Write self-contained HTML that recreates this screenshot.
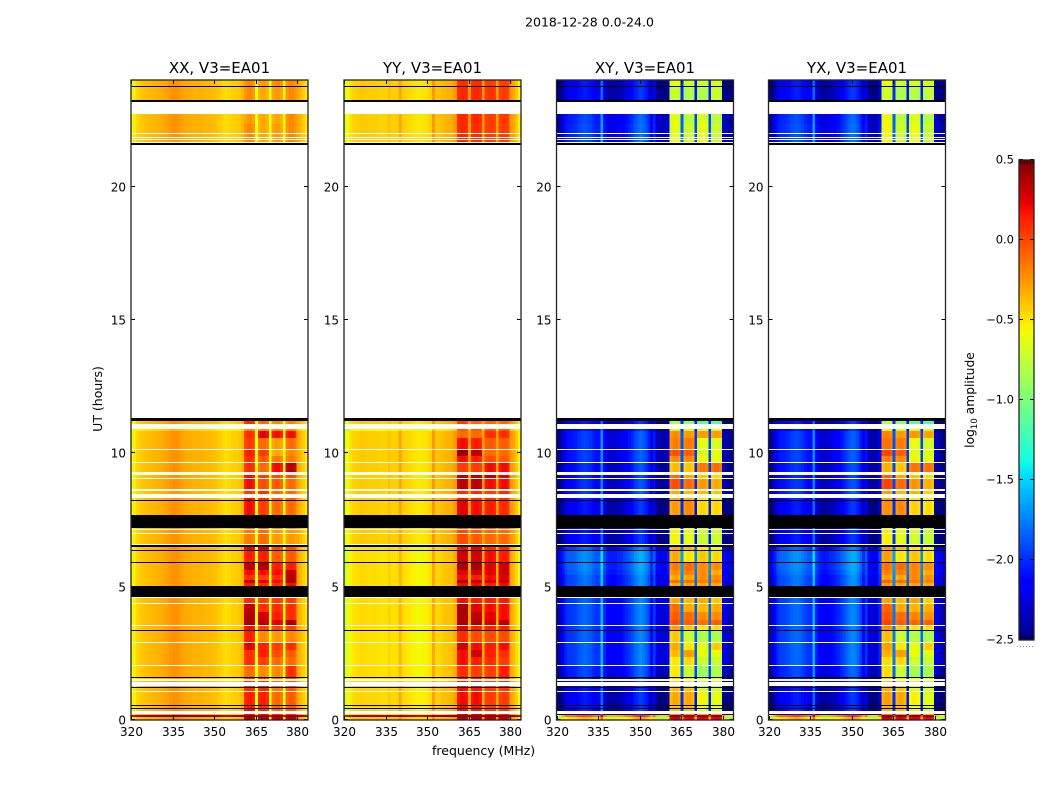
<!DOCTYPE html>
<html>
<head>
<meta charset="utf-8">
<title>2018-12-28 0.0-24.0</title>
<style>
html,body{margin:0;padding:0;background:#fff;width:1050px;height:800px;overflow:hidden}
svg{display:block}
text{font-family:"DejaVu Sans","Liberation Sans",sans-serif;fill:#000}
</style>
</head>
<body>
<svg id="fig" xmlns="http://www.w3.org/2000/svg" width="1050" height="800" viewBox="0 0 1050 800">
<text x="589.5" y="26.5" font-size="12.5" text-anchor="middle">2018-12-28 0.0-24.0</text>
<text x="432" y="755" font-size="12.5">frequency (MHz)</text>
<text transform="translate(102,399) rotate(-90)" font-size="12.5" text-anchor="middle">UT (hours)</text>
<text transform="translate(974,400) rotate(-90)" font-size="12.3" text-anchor="middle">log<tspan font-size="8.5" dy="3">10</tspan><tspan dy="-3"> amplitude</tspan></text>
</svg>
<script>
var freqTicks = [320, 335, 350, 365, 380];
var hourTicks = [0, 5, 10, 15, 20];
var colorTicks = [0.5, 0, -0.5, -1, -1.5, -2, -2.5];
var colorTickLabels = ['0.5', '0.0', '\u22120.5', '\u22121.0', '\u22121.5', '\u22122.0', '\u22122.5'];
var panelTitles = ['XX, V3=EA01', 'YY, V3=EA01', 'XY, V3=EA01', 'YX, V3=EA01'];
var firstChannelMHz = 319.8;
var blockOfChannel = [-1,-1,-1,-1,-1,-1,-1,-1,-1,-1,-1,-1,-1,-1,-1,-1,-1,-1,-1,-1,-1,-1,-1,-1,-1,-1,-1,-1,-1,-1,-1,-1,-1,-1,-1,-1,-1,-1,-1,-1,-1,0,0,0,0,-1,1,1,1,1,-1,2,2,2,2,-1,3,3,3,3,-1,-1,-1,-1,-1];

var xxSpectrum = [-.6,-.52,-.45,-.42,-.40,-.38,-.37,-.36,-.35,-.34,-.33,-.32,-.30,-.28,-.25,-.23,-.23,-.25,-.28,-.30,-.31,-.32,-.33,-.34,-.33,-.33,-.35,-.36,-.35,-.37,-.38,-.40,-.42,-.46,-.48,-.46,-.44,-.43,-.42,-.40,-.35,-.05,0,0,-.05,-.6,-.05,0,0,-.05,-.62,-.05,0,0,-.05,-.58,-.05,0,0,-.05,-.3,-.36,-.42,-.5,-.62];
var yySpectrum = [-.72,-.58,-.49,-.45,-.43,-.42,-.41,-.41,-.42,-.43,-.42,-.42,-.43,-.44,-.44,-.44,-.38,-.43,-.43,-.42,-.28,-.42,-.44,-.45,-.47,-.49,-.51,-.51,-.50,-.49,-.47,-.43,-.25,-.41,-.39,-.37,-.35,-.34,-.33,-.30,-.26,-.03,0,0,-.03,-.25,-.03,0,0,-.03,-.28,-.03,0,0,-.03,-.28,-.03,0,0,-.03,-.25,-.3,-.4,-.55,-.7];
var xySpectrum = [-2.45,-2.35,-2.2,-2.05,-2.0,-2.0,-1.98,-1.95,-1.9,-1.87,-1.85,-1.87,-1.9,-1.95,-2.0,-2.02,-1.6,-2.05,-2.15,-2.2,-2.2,-2.2,-2.15,-2.15,-2.1,-2.05,-2.0,-1.95,-1.85,-1.8,-1.75,-1.78,-1.85,-1.95,-2.15,-1.98,-2.25,-2.3,-2.3,-2.3,-2.2,-.07,0,0,-.05,-1.8,-.05,0,0,-.05,-1.9,-.05,0,0,-.05,-1.85,-.05,0,0,-.06,-2.25,-2.3,-2.35,-2.4,-2.45];
var yxSpectrum = [-2.42,-2.32,-2.18,-2.03,-1.98,-1.97,-1.95,-1.92,-1.88,-1.85,-1.84,-1.86,-1.9,-1.95,-2.0,-2.03,-1.62,-2.07,-2.16,-2.2,-2.22,-2.2,-2.16,-2.14,-2.1,-2.05,-2.0,-1.94,-1.86,-1.8,-1.76,-1.78,-1.85,-1.97,-2.15,-2.0,-2.26,-2.3,-2.3,-2.3,-2.05,-.05,0,0,-.05,-1.8,-.05,0,0,-.05,-1.9,-.05,0,0,-.05,-1.85,-.05,0,0,-.06,-2.25,-2.3,-2.35,-2.4,-2.45];

var bandTopHours = [24,23.775,23.74,23.25,23.19,22.725,22.35,22.01,21.975,21.88,21.84,21.79,21.75,21.675,21.62,21.56,11.325,11.21,11.10,10.91,10.84,10.575,10.16,10.125,9.90,9.675,9.64,9.30,9.19,9.075,9.04,8.66,8.59,8.475,8.325,8.25,8.21,7.69,7.20,7.16,7.125,7.01,6.975,6.60,6.56,6.49,6.375,6.34,5.925,5.89,5.625,5.44,5.25,5.14,5.025,4.61,4.575,4.39,4.35,4.05,3.75,3.56,3.525,3.375,3.34,2.925,2.89,2.625,2.36,2.06,2.025,1.61,1.575,1.54,1.46,1.425,1.275,1.24,1.20,1.09,1.05,0.56,0.525,0.45,0.41,0.34,0.225,0.19,0.11];
var bandKinds = 'dkdkwddwdwdwdwkwkdwdddwddwdwdwdwdwdkdkdwdwdwkdkdkdddddkwdwdddwdkdwdddwdkdwdwdkdwdkdkdwddd';

// each data row: [low-band offset, block 1, block 2, block 3, block 4] (log10 amplitude)
var xxRows = [
[0,-.2,-.25,-.2,-.2],[0,-.2,-.3,-.25,-.2],[0,-.25,-.3,-.3,-.2],[0,-.2,-.3,-.25,-.2],[0,-.2,-.3,-.25,-.2],[0,-.2,-.3,-.25,-.2],[0,-.2,-.3,-.25,-.2],
[0,.1,-.1,-.2,-.2],[-.12,-.2,-.2,-.2,-.2],[0,.1,.25,.2,.2],[0,.05,-.1,-.25,-.1],[0,.15,.05,-.3,-.2],[0,.1,-.05,-.15,-.15],[0,.1,-.1,.2,.35],[0,.2,.05,0,0],[0,.2,0,-.05,-.1],[-.02,.05,.1,-.1,-.1],[0,.2,.1,-.05,-.05],[0,.2,.05,-.1,-.1],
[0,-.1,-.1,-.2,-.2],[0,-.15,-.1,-.25,-.25],[0,-.15,-.1,-.25,-.25],[0,.25,.3,0,0],[0,.15,.15,-.05,-.05],[0,.35,.4,.15,.15],[0,.2,.2,.2,.35],[0,.1,.05,.1,.35],[0,.35,.25,.2,.4],[0,.15,.1,.1,.2],
[0,.1,.05,.05,.05],[0,.35,.1,.1,.1],[0,.4,.3,.15,.1],[0,.4,.35,.25,.4],[0,.2,.05,.05,.05],[0,.15,-.2,-.25,-.2],[0,.25,.15,.05,.1],[0,.1,.15,0,-.05],[0,.1,.05,-.1,-.1],[0,-.1,-.2,-.2,.1],
[0,.1,.1,-.1,0],[0,.1,.1,-.1,0],[0,.1,.1,-.1,0],[0,.1,.1,-.15,-.05],[0,.15,.15,-.1,-.05],[0,.15,.1,-.1,-.05],[0,.2,.1,-.1,-.05],[0,.2,.2,.1,.1],[.85,.48,.48,.48,.48],[.02,.4,.4,.35,.35]];
var yyRows = [
[0,.1,.1,.05,.05],[0,.12,.12,.08,.05],[0,.12,.12,.05,.05],[0,.12,.1,.05,.05],[0,.12,.1,.05,.05],[0,.12,.1,.05,.05],[0,.12,.1,.05,.05],
[0,.05,-.1,-.1,-.1],[-.15,-.05,-.05,-.05,-.05],[0,-.1,-.1,.1,.1],[0,.2,.15,-.05,-.05],[0,.45,.35,-.1,-.1],[0,.2,.15,0,-.05],[0,.05,.05,.2,.2],[0,.35,.35,.35,.25],[0,.35,.35,.2,.2],[0,.1,.1,.05,.1],[0,.15,.1,.1,.1],[0,.25,.2,.15,.1],
[0,0,0,-.05,-.05],[0,0,-.05,-.1,-.1],[0,0,-.05,-.1,-.1],[-.06,.2,.25,.1,.1],[-.06,.3,.3,.2,.15],[-.05,.4,.4,.25,.3],[-.05,.25,.3,.25,.3],[-.05,.2,.15,.2,.25],[-.05,.4,.35,.3,.35],[-.05,.2,.2,.15,.2],
[-.05,.2,.15,.15,.15],[-.05,.4,.25,.2,.2],[-.05,.4,.35,.25,.2],[-.05,.4,.4,.3,.35],[-.06,.25,.15,.15,.15],[-.06,.1,0,0,0],[-.06,.3,.2,.15,.2],[-.06,.2,.3,.15,.1],[-.06,.2,.15,.1,.05],[-.05,.1,.05,.05,.15],
[-.03,.15,.15,.05,.1],[-.03,.15,.15,.05,.1],[-.03,.15,.15,.05,.1],[-.03,.2,.15,.05,.05],[-.03,.2,.2,.05,.05],[-.03,.2,.15,.05,.05],[-.03,.2,.15,.05,.05],[-.05,.25,.25,.15,.15],[.85,.48,.48,.48,.48],[.02,.4,.4,.35,.35]];
var xyRows = [
[-.2,-.6,-.7,-.7,-.65],[-.2,-.7,-.8,-.8,-.7],[-.05,-.6,-.75,-.65,-.75],[-.03,-.6,-.7,-.6,-.7],[-.03,-.6,-.7,-.6,-.7],[-.03,-.6,-.7,-.6,-.7],[-.03,-.6,-.7,-.6,-.7],
[-.2,-.8,-.9,-1.1,-1.1],[-.2,-.7,-.7,-.7,-.7],[-.08,-.2,-.25,-.25,-.25],[-.08,-.15,-.15,-.6,-.65],[-.08,0,-.05,-.65,-.6],[-.08,-.2,-.2,-.55,-.6],[-.12,-.35,-.4,-.15,-.1],[-.15,-.1,-.3,-.4,-.45],[-.12,0,-.1,-.25,-.3],[-.08,-.3,-.35,-.35,-.4],[-.15,-.3,-.3,-.5,-.5],[-.2,-.25,-.2,-.45,-.45],
[-.2,-.6,-.6,-.7,-.7],[-.2,-.55,-.6,-.7,-.7],[-.2,-.55,-.6,-.7,-.7],[.05,-.3,-.35,-.5,-.55],[.15,-.3,-.5,-.4,-.45],[.15,-.15,-.1,-.2,-.2],[.12,-.2,-.15,-.2,-.3],[.07,-.3,-.3,-.2,-.2],[.07,-.1,-.1,-.15,-.15],[.07,-.3,-.3,-.3,-.3],
[.03,-.3,-.35,-.3,-.4],[.03,-.1,-.3,-.35,-.3],[.03,-.05,-.1,-.2,-.2],[.03,0,-.05,-.1,-.05],[.03,-.25,-.4,-.5,-.45],[.03,-.4,-.7,-.8,-.8],[.03,-.3,-.5,-.6,-.4],[.03,-.35,-.25,-.6,-.6],[.03,-.5,-.45,-.7,-.7],[-.05,-.5,-.7,-.85,-.8],
[-.2,-.4,-.45,-.7,-.7],[-.2,-.4,-.45,-.7,-.7],[-.2,-.4,-.45,-.7,-.7],[-.2,-.35,-.4,-.65,-.65],[-.2,-.3,-.3,-.55,-.6],[-.2,-.35,-.35,-.6,-.6],[-.15,-.35,-.35,-.6,-.6],[-.25,-.2,-.2,-.3,-.3],[1.85,.5,.5,.5,.5],[1.5,.3,.25,.25,.25]];
var yxBlockShift = [.03, 0, .02, -.02];

var svgNS = 'http://www.w3.org/2000/svg';
var fig = document.getElementById('fig');
var panelLeft = [131, 344, 556.5, 768.5];
var panelWidth = 177;
var axTop = 80, axBottom = 720, hourMax = 24, mhzMin = 320, mhzPerWidth = 63.9;
var barLeft = 1019, barWidth = 15, barTop = 160, barBottom = 640, valueMin = -2.5, valueMax = 0.5;

function xScale(panel, f) { return panelLeft[panel] + (f - mhzMin) / mhzPerWidth * panelWidth; }
function yScale(h) { return axBottom - h / hourMax * (axBottom - axTop); }
function barScale(v) { return barBottom - (v - valueMin) / (valueMax - valueMin) * (barBottom - barTop); }
function piece(t, pts) {
  for (var i = 1; i < pts.length; i++) {
    if (t <= pts[i][0]) {
      var a = pts[i - 1], b = pts[i];
      return a[1] + (b[1] - a[1]) * (t - a[0]) / (b[0] - a[0]);
    }
  }
  return pts[pts.length - 1][1];
}
function jet(v) {
  var t = Math.max(0, Math.min(1, (v - valueMin) / (valueMax - valueMin)));
  var r = piece(t, [[0, 0], [.35, 0], [.66, 1], [.89, 1], [1, .5]]);
  var g = piece(t, [[0, 0], [.125, 0], [.375, 1], [.64, 1], [.91, 0], [1, 0]]);
  var b = piece(t, [[0, .5], [.11, 1], [.34, 1], [.65, 0], [1, 0]]);
  return 'rgb(' + Math.round(r * 255) + ',' + Math.round(g * 255) + ',' + Math.round(b * 255) + ')';
}
function mk(tag, attrs, parent) {
  var el = document.createElementNS(svgNS, tag);
  for (var k in attrs) { el.setAttribute(k, attrs[k]); }
  (parent || fig).appendChild(el);
  return el;
}

var spectra = [xxSpectrum, yySpectrum, xySpectrum, yxSpectrum];
var rowSets = [xxRows, yyRows, xyRows, xyRows];

function cellValue(panel, row, c) {
  var b = blockOfChannel[c];
  var rowVals = rowSets[panel][row];
  if (b < 0) { return spectra[panel][c] + rowVals[0]; }
  var v = rowVals[b + 1] + spectra[panel][c];
  if (panel === 3) { v += yxBlockShift[b]; }
  return v;
}

function drawPanel(p) {
  var g = mk('g', {});
  
  
  var clipId = 'clip' + p;
  var defs = mk('clipPath', { id: clipId }, g);
  mk('rect', { x: panelLeft[p], y: axTop, width: panelWidth, height: axBottom - axTop }, defs);
  var cells = mk('g', { 'clip-path': 'url(#' + clipId + ')', 'shape-rendering': 'crispEdges' }, g);
  
  
  var row = 0;
  for (var i = 0; i < bandTopHours.length; i++) {
    var topH = bandTopHours[i];
    var botH = i + 1 < bandTopHours.length ? bandTopHours[i + 1] : 0;
    var y0 = Math.round(yScale(topH));
    var y1 = Math.round(yScale(botH));
    var kind = bandKinds.charAt(i);
    if (kind === 'k') {
      var blackBand = mk('rect', { x: panelLeft[p], y: y0, width: panelWidth, height: Math.max(1, y1 - y0), fill: '#000' }, cells);
      
      
    } else if (kind === 'd') {
      for (var c = 0; c < blockOfChannel.length; c++) {
        var x0 = xScale(p, firstChannelMHz + c);
        var x1 = xScale(p, firstChannelMHz + c + 1);
        var cell = mk('rect', { x: x0.toFixed(2), y: y0, width: (x1 - x0 + 0.4).toFixed(2), height: Math.max(1, y1 - y0), fill: jet(cellValue(p, row, c)) }, cells);
        
        
      }
      row++;
    }
  }
  var L = panelLeft[p], R = L + panelWidth;
  freqTicks.forEach(function (f) {
    var x = Math.round(xScale(p, f)) + 0.5;
    var t1 = mk('line', { x1: x, x2: x, y1: axBottom, y2: axBottom - 4, stroke: '#000', 'stroke-width': 1 }, g);
    
    
    var t2 = mk('line', { x1: x, x2: x, y1: axTop, y2: axTop + 4, stroke: '#000', 'stroke-width': 1 }, g);
    
    
    var lab = mk('text', { x: x, y: axBottom + 16, 'font-size': 12, 'text-anchor': 'middle' }, g);
    lab.textContent = String(f);
    
    
  });
  hourTicks.forEach(function (h) {
    var y = Math.round(yScale(h)) - 0.5;
    var t1 = mk('line', { x1: L, x2: L + 4, y1: y, y2: y, stroke: '#000', 'stroke-width': 1 }, g);
    
    
    var t2 = mk('line', { x1: R, x2: R - 4, y1: y, y2: y, stroke: '#000', 'stroke-width': 1 }, g);
    
    
    var lab = mk('text', { x: L - 5, y: y + 5, 'font-size': 12, 'text-anchor': 'end' }, g);
    lab.textContent = String(h);
    
    
  });
  var frame = mk('rect', { x: L, y: axTop, width: panelWidth, height: axBottom - axTop, fill: 'none', stroke: '#222', 'stroke-width': 1.3 }, g);
  
  
  var title = mk('text', { x: L + panelWidth / 2, y: 73, 'font-size': 15, 'text-anchor': 'middle' }, g);
  title.textContent = panelTitles[p];
  
  
}
for (var p = 0; p < 4; p++) { drawPanel(p); }

function drawColorbar() {
  var g = mk('g', {});
  
  
  var steps = 240;
  for (var s = 0; s < steps; s++) {
    var v0 = valueMin + (valueMax - valueMin) * s / steps;
    var v1 = valueMin + (valueMax - valueMin) * (s + 1) / steps;
    var seg = mk('rect', { x: barLeft, y: barScale(v1), width: barWidth, height: barScale(v0) - barScale(v1) + 0.5, fill: jet((v0 + v1) / 2), 'shape-rendering': 'crispEdges' }, g);
    
    
  }
  [2, 5, 8, 11, 14].forEach(function (d) {
    var tt = mk('line', { x1: barLeft + d, x2: barLeft + d, y1: barTop, y2: barTop + 4, stroke: '#000', 'stroke-width': 0.8 }, g);
    
    
    var tb = mk('line', { x1: barLeft + d, x2: barLeft + d, y1: barBottom, y2: barBottom - 4, stroke: '#000', 'stroke-width': 0.8 }, g);
    
    
  });
  colorTicks.forEach(function (v, i) {
    var y = Math.round(barScale(v)) - 0.5;
    var a = mk('line', { x1: barLeft, x2: barLeft + 4, y1: y, y2: y, stroke: '#000', 'stroke-width': 1 }, g);
    
    
    var b = mk('line', { x1: barLeft + barWidth, x2: barLeft + barWidth - 4, y1: y, y2: y, stroke: '#000', 'stroke-width': 1 }, g);
    
    
    var lab = mk('text', { x: barLeft - 5, y: y + 4, 'font-size': 11.5, 'text-anchor': 'end' }, g);
    lab.textContent = colorTickLabels[i];
    
    
  });
  var frame = mk('rect', { x: barLeft, y: barTop, width: barWidth, height: barBottom - barTop, fill: 'none', stroke: '#222', 'stroke-width': 1.3 }, g);
  
  
  var dots = mk('line', { x1: 1017, x2: 1035, y1: 646.5, y2: 646.5, stroke: '#888', 'stroke-width': 1, 'stroke-dasharray': '1 2' }, g);
  
  
}
drawColorbar();
</script>
</body>
</html>
